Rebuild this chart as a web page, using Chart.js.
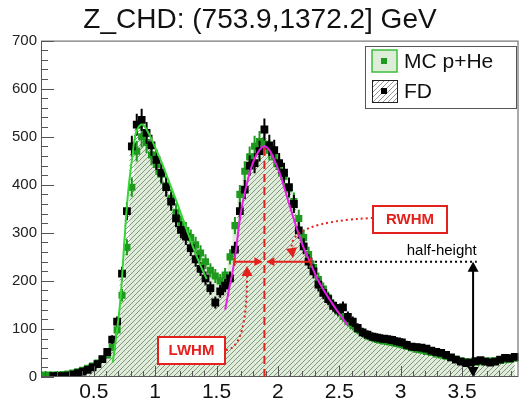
<!DOCTYPE html>
<html>
<head>
<meta charset="utf-8">
<script src="https://cdn.jsdelivr.net/npm/chart.js@4.4.0/dist/chart.umd.min.js"></script>
<style>
  html, body { margin: 0; padding: 0; background: #fff; }
  #wrap { width: 524px; height: 400px; }
</style>
</head>
<body>
<div id="wrap"><canvas id="myChart" width="524" height="400"></canvas></div>
<script>
// Z_CHD histogram, bins of 0.04
const binWidth = 0.04;
const binCenters = [
  0.09, 0.13, 0.17, 0.21, 0.25, 0.29, 0.33, 0.37, 0.41, 0.45,
  0.49, 0.53, 0.57, 0.61, 0.65, 0.69, 0.73, 0.77, 0.81, 0.85,
  0.89, 0.93, 0.97, 1.01, 1.05, 1.09, 1.13, 1.17, 1.21, 1.25,
  1.29, 1.33, 1.37, 1.41, 1.45, 1.49, 1.53, 1.57, 1.61, 1.65,
  1.69, 1.73, 1.77, 1.81, 1.85, 1.89, 1.93, 1.97, 2.01, 2.05,
  2.09, 2.13, 2.17, 2.21, 2.25, 2.29, 2.33, 2.37, 2.41, 2.45,
  2.49, 2.53, 2.57, 2.61, 2.65, 2.69, 2.73, 2.77, 2.81, 2.85,
  2.89, 2.93, 2.97, 3.01, 3.05, 3.09, 3.13, 3.17, 3.21, 3.25,
  3.29, 3.33, 3.37, 3.41, 3.45, 3.49, 3.53, 3.57, 3.61, 3.65,
  3.69, 3.73, 3.77, 3.81, 3.85, 3.89, 3.93
];
const fdCounts = [
  0, 0, 2, 2, 2, 3, 5, 8, 11, 15,
  20, 27, 37, 52, 78, 115, 215, 345, 480, 525,
  535, 508, 482, 452, 425, 395, 365, 330, 306, 292,
  268, 245, 225, 205, 185, 155, 178, 190, 205, 265,
  345, 390, 440, 445, 470, 515, 482, 472, 445, 425,
  395, 360, 305, 272, 240, 220, 192, 175, 162, 148,
  140, 145, 125, 115, 102, 93, 88, 84, 82, 80,
  79, 77, 74, 72, 67, 63, 62, 61, 59, 55,
  52, 50, 46, 41, 36, 32, 29, 30, 33, 35,
  32, 30, 32, 36, 40, 39, 42
];
const mcCounts = [
  4, 4, 4, 4, 5, 6, 8, 11, 14, 18,
  23, 29, 37, 46, 62, 98, 170, 270, 395, 470,
  500, 488, 462, 442, 422, 398, 372, 343, 318, 305,
  290, 275, 258, 240, 222, 210, 200, 212, 250, 315,
  380, 428, 458, 480, 490, 485, 472, 458, 438, 418,
  392, 365, 330, 290, 255, 228, 203, 183, 165, 150,
  137, 126, 116, 107, 99, 92, 86, 82, 78, 76,
  74, 72, 70, 67, 64, 61, 58, 56, 53, 51,
  48, 46, 43, 40, 37, 34, 32, 31, 31, 32,
  33, 33, 34, 35, 36, 37, 39
];

// fitted curves
const lowFitX = [0.655, 0.70, 0.72, 0.75, 0.78, 0.81, 0.84, 0.87, 0.90, 0.93, 0.97, 1.01, 1.05, 1.10, 1.16, 1.22, 1.28, 1.34, 1.38, 1.42];
const lowFitY = [30, 120, 170, 285, 385, 450, 505, 522, 525, 515, 495, 472, 448, 415, 375, 333, 290, 250, 226, 204];
const highFitX = [1.57, 1.60, 1.645, 1.70, 1.75, 1.80, 1.85, 1.89, 1.93, 1.97, 2.02, 2.08, 2.14, 2.20, 2.26, 2.32, 2.38, 2.45, 2.51, 2.57];
const highFitY = [140, 180, 240, 345, 405, 448, 472, 480, 472, 452, 420, 370, 320, 275, 240, 205, 178, 150, 128, 108];

const xTickLabels = [0.5, 1, 1.5, 2, 2.5, 3, 3.5];
const yTickLabels = [0, 100, 200, 300, 400, 500, 600, 700];

// annotation positions (data units)
const peakPos = 1.89, peakTop = 483, halfHeight = 240;
const lwhmPos = 1.646, rwhmPos = 2.27, halfLineEnd = 3.62, arrowPos = 3.59;

const font = 'Liberation Sans, Arial, sans-serif';
const ctx = document.getElementById('myChart').getContext('2d');

function hatchPattern(bg) {
    var c = document.createElement('canvas');
    c.width = 5; c.height = 5;
    var g = c.getContext('2d');
    if (bg) { g.fillStyle = bg; g.fillRect(0, 0, 5, 5); }
    g.strokeStyle = 'rgba(85,90,85,0.62)';
    g.lineWidth = 1;
    g.beginPath();
    g.moveTo(0, 5); g.lineTo(5, 0);
    g.moveTo(-1, 1); g.lineTo(1, -1);
    g.moveTo(4, 6); g.lineTo(6, 4);
    g.stroke();
    return ctx.createPattern(c, 'repeat');
}
const hatch = hatchPattern(null);
const mcFill = 'rgb(222,237,216)';

const toPoints = (xs, ys) => xs.map((x, i) => ({x: x, y: ys[i]}));

// error bars under the markers
const errorBars = {
    id: 'errorBars',
    beforeDatasetDraw(chart, args) {
        const ds = chart.data.datasets[args.index];
        if (!ds.errColor) return;
        const {ctx, scales: {x, y}} = chart;
        ctx.save();
        ctx.strokeStyle = ds.errColor;
        ctx.lineWidth = 2;
        ctx.beginPath();
        ds.data.forEach(p => {
            const e = Math.sqrt(p.y);
            const px = x.getPixelForValue(p.x), py = y.getPixelForValue(p.y);
            ctx.moveTo(px, y.getPixelForValue(p.y - e));
            ctx.lineTo(px, y.getPixelForValue(p.y + e));
            ctx.moveTo(x.getPixelForValue(p.x - binWidth / 2), py);
            ctx.lineTo(x.getPixelForValue(p.x + binWidth / 2), py);
        });
        ctx.stroke();
        ctx.restore();
    }
};

// ROOT style frame with inner ticks
const rootFrame = {
    id: 'rootFrame',
    afterDatasetsDraw(chart) {
        const {ctx, chartArea: a, scales: {x, y}} = chart;
        ctx.save();
        ctx.strokeStyle = '#555';
        ctx.lineWidth = 1;
        ctx.strokeRect(a.left + 0.5, a.top + 0.5, a.right - a.left - 1, a.bottom - a.top - 1);
        ctx.beginPath();
        for (let v = 0; v <= 700; v += 20) {
            const py = Math.round(y.getPixelForValue(v)) + 0.5;
            const len = v % 100 === 0 ? 13 : 7;
            ctx.moveTo(a.left, py); ctx.lineTo(a.left + len, py);
        }
        for (let k = 1; k <= 39; k++) {
            const px = Math.round(x.getPixelForValue(k / 10)) + 0.5;
            const len = k % 5 === 0 ? 11 : 6;
            ctx.moveTo(px, a.bottom); ctx.lineTo(px, a.bottom - len);
        }
        ctx.stroke();
        ctx.restore();
    }
};

function arrowHead(c, x, y, ang, size) {
    c.save();
    c.translate(x, y);
    c.rotate(ang);
    c.beginPath();
    c.moveTo(0, 0);
    c.lineTo(-size, -size * 0.55);
    c.lineTo(-size, size * 0.55);
    c.closePath();
    c.fill();
    c.restore();
}

// LWHM / RWHM / half-height markup
const markup = {
    id: 'markup',
    afterDatasetsDraw(chart) {
        const {ctx, scales: {x, y}} = chart;
        const X = v => x.getPixelForValue(v), Y = v => y.getPixelForValue(v);
        const red = '#e4211c';
        const hy = Y(halfHeight);
        ctx.save();
        ctx.strokeStyle = red; ctx.fillStyle = red;

        // dashed line through the peak
        ctx.lineWidth = 2;
        ctx.setLineDash([8, 5]);
        ctx.beginPath();
        ctx.moveTo(X(peakPos), Y(0)); ctx.lineTo(X(peakPos), Y(peakTop));
        ctx.stroke();
        ctx.setLineDash([]);

        // widths at half height
        const cx = X(peakPos);
        ctx.beginPath();
        ctx.moveTo(X(lwhmPos), hy); ctx.lineTo(cx - 3, hy);
        ctx.moveTo(cx + 3, hy); ctx.lineTo(X(rwhmPos), hy);
        ctx.moveTo(X(lwhmPos), hy - 4); ctx.lineTo(X(lwhmPos), hy + 4);
        ctx.moveTo(X(rwhmPos), hy - 4); ctx.lineTo(X(rwhmPos), hy + 4);
        ctx.stroke();
        arrowHead(ctx, cx - 2, hy, 0, 8);
        arrowHead(ctx, cx + 2, hy, Math.PI, 8);

        // boxes
        ctx.lineWidth = 2;
        ctx.fillStyle = '#fff';
        ctx.fillRect(158, 337, 67, 27);
        ctx.strokeRect(158, 337, 67, 27);
        ctx.fillRect(373, 206, 74, 27);
        ctx.strokeRect(373, 206, 74, 27);
        ctx.fillStyle = red;
        ctx.font = 'bold 15px ' + font;
        ctx.textAlign = 'center';
        ctx.textBaseline = 'middle';
        ctx.fillText('LWHM', 191.5, 351);
        ctx.fillText('RWHM', 410, 220);

        // dotted pointers
        ctx.setLineDash([2, 3]);
        ctx.lineWidth = 2;
        ctx.beginPath();
        ctx.moveTo(226, 350);
        ctx.quadraticCurveTo(247, 348, 247, 276);
        ctx.moveTo(373, 218);
        ctx.quadraticCurveTo(286, 222, 292, 250);
        ctx.stroke();
        ctx.setLineDash([]);
        arrowHead(ctx, 247, 266, -Math.PI / 2, 10);
        arrowHead(ctx, 293, 258, Math.PI / 2 - 0.15, 10);

        // half-height guide
        ctx.strokeStyle = '#000'; ctx.fillStyle = '#000';
        ctx.setLineDash([2, 3]);
        ctx.beginPath();
        ctx.moveTo(X(rwhmPos) + 4, hy); ctx.lineTo(X(halfLineEnd), hy);
        ctx.stroke();
        ctx.setLineDash([]);
        ctx.font = '15px ' + font;
        ctx.textAlign = 'right';
        ctx.textBaseline = 'alphabetic';
        ctx.fillText('half-height', X(halfLineEnd), hy - 7);
        const ax = X(arrowPos);
        ctx.beginPath();
        ctx.moveTo(ax, hy + 8); ctx.lineTo(ax, Y(0) - 8);
        ctx.stroke();
        arrowHead(ctx, ax, hy, -Math.PI / 2, 10);
        arrowHead(ctx, ax, Y(0), Math.PI / 2, 10);
        ctx.restore();
    }
};

// legend box like TLegend
const rootLegend = {
    id: 'rootLegend',
    afterDraw(chart) {
        const c = chart.ctx;
        c.save();
        c.fillStyle = '#fff';
        c.fillRect(365, 46, 151, 62);
        c.strokeStyle = '#555'; c.lineWidth = 1;
        c.strokeRect(365.5, 46.5, 151, 62);
        // MC p+He
        c.fillStyle = mcFill;
        c.fillRect(372, 50, 25, 22);
        c.strokeStyle = '#3bbf3b'; c.lineWidth = 1.5;
        c.strokeRect(372, 50, 25, 22);
        c.fillStyle = '#1e9a1e';
        c.fillRect(381, 58, 6, 6);
        // FD
        c.fillStyle = '#fff';
        c.fillRect(372, 80, 25, 22);
        c.fillStyle = hatch;
        c.fillRect(372, 80, 25, 22);
        c.strokeStyle = '#222'; c.lineWidth = 1;
        c.strokeRect(372.5, 80.5, 25, 22);
        c.fillStyle = '#000';
        c.fillRect(381, 88, 6, 6);
        c.font = '21px ' + font;
        c.textAlign = 'left'; c.textBaseline = 'middle';
        c.fillStyle = '#111';
        c.fillText('MC p+He', 404, 62);
        c.fillText('FD', 404, 92);
        c.restore();
    }
};

const myChart = new Chart(ctx, {
    type: 'line',
    data: {
        datasets: [
            {
                label: 'MC fill',
                data: toPoints(binCenters, mcCounts),
                stepped: 'middle',
                fill: 'origin',
                backgroundColor: mcFill,
                borderWidth: 0,
                pointRadius: 0,
                order: 6
            }, {
                label: 'FD fill',
                data: toPoints(binCenters, fdCounts),
                stepped: 'middle',
                fill: 'origin',
                backgroundColor: hatch,
                borderWidth: 0,
                pointRadius: 0,
                order: 5
            }, {
                label: 'MC p+He',
                data: toPoints(binCenters, mcCounts),
                showLine: false,
                pointStyle: 'rect',
                pointRadius: 5,
                pointBackgroundColor: '#1e9a1e',
                pointBorderWidth: 0,
                errColor: '#1e9a1e',
                order: 4
            }, {
                label: 'FD',
                data: toPoints(binCenters, fdCounts).filter(p => p.y > 0),
                showLine: false,
                pointStyle: 'rect',
                pointRadius: 5.5,
                pointBackgroundColor: '#000',
                pointBorderWidth: 0,
                errColor: '#000',
                order: 3
            }, {
                label: 'fit 1',
                data: toPoints(lowFitX, lowFitY),
                borderColor: '#33d633',
                borderWidth: 2,
                pointRadius: 0,
                tension: 0.4,
                fill: false,
                order: 2
            }, {
                label: 'fit 2',
                data: toPoints(highFitX, highFitY),
                borderColor: '#e61ee6',
                borderWidth: 2,
                pointRadius: 0,
                tension: 0.4,
                fill: false,
                order: 1
            }
        ]
    },
    options: {
        responsive: false,
        animation: false,
        events: [],
        layout: { padding: { left: 0, right: 4, top: 0, bottom: 0 } },
        plugins: {
            legend: { display: false },
            tooltip: { enabled: false },
            title: {
                display: true,
                text: 'Z_CHD: (753.9,1372.2] GeV',
                color: '#111',
                font: { family: font, size: 28, weight: 'normal' },
                padding: { top: 3, bottom: 4 }
            }
        },
        scales: {
            x: {
                type: 'linear',
                min: 0.07,
                max: 3.96,
                grid: { display: false, drawTicks: false },
                border: { display: false },
                afterBuildTicks: s => { s.ticks = xTickLabels.map(v => ({value: v})); },
                afterFit: s => { s.height = 23; },
                ticks: {
                    autoSkip: false,
                    maxRotation: 0,
                    padding: 3,
                    color: '#111',
                    font: { family: font, size: 21 },
                    callback: v => String(v)
                }
            },
            y: {
                min: 0,
                max: 700,
                grid: { display: false, drawTicks: false },
                border: { display: false },
                afterBuildTicks: s => { s.ticks = yTickLabels.map(v => ({value: v})); },
                afterFit: s => { s.width = 41; },
                ticks: {
                    padding: 4,
                    color: '#222',
                    font: { family: font, size: 15 },
                    callback: v => String(v)
                }
            }
        }
    },
    plugins: [errorBars, rootFrame, markup, rootLegend]
});
</script>
</body>
</html>
